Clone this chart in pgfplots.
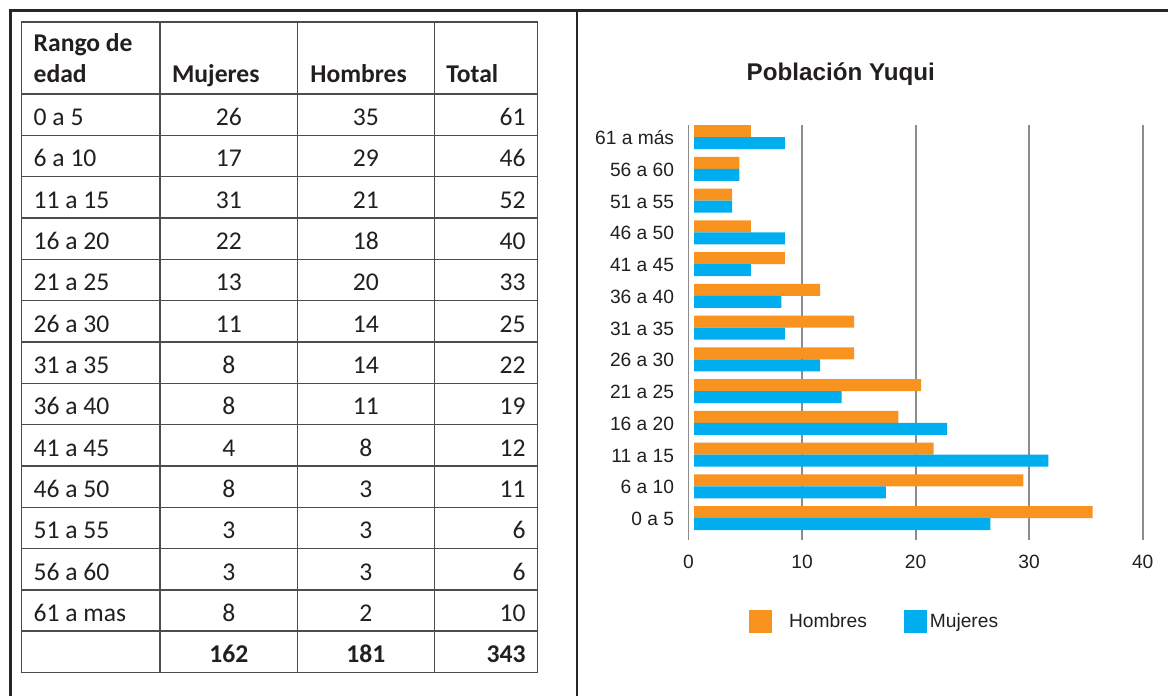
\documentclass[border=0pt]{standalone}
\usepackage{pgfplots}
\pgfplotsset{compat=1.18}
\usepackage{fontspec}
\setmainfont{Liberation Sans}
\newfontfamily\tabfont{Carlito}
\definecolor{hom}{HTML}{F7931E}
\definecolor{muj}{HTML}{00AEEF}
\definecolor{txt}{HTML}{231F20}
\definecolor{gridc}{HTML}{8C8C8C}
\begin{document}
\begin{tikzpicture}
\begin{scope}[x=0.5pt,y=-0.5pt]
\path[use as bounding box] (0,0) rectangle (1168,696);
% outer frame
\draw[line width=1.35pt, color=black!85] (10.7,696) -- (10.7,10.7) -- (1168,10.7);
\draw[line width=1.35pt, color=black!85] (577,10.7) -- (577,696);
% table grid
\draw[line width=0.7pt, color=black!70] (21.7,22) rectangle (537.7,672.5);
\foreach \x in {160,297.5,434.3} \draw[line width=0.7pt, color=black!70] (\x,22) -- (\x,672.5);
\foreach \k in {0,...,13} \draw[line width=0.7pt, color=black!70] (21.7,94+41.32*\k) -- (537.7,94+41.32*\k);
% header
\begin{scope}[every node/.style={inner sep=0pt, text=txt, font=\tabfont\bfseries\fontsize{12.8pt}{14pt}\selectfont}]
\node[anchor=base west] at (33.3,51.7) {Rango de};
\node[anchor=base west] at (33.3,82.7) {edad};
\node[anchor=base west] at (171.7,82.7) {Mujeres};
\node[anchor=base west] at (310,82.7) {Hombres};
\node[anchor=base west] at (446,82.7) {Total};
\end{scope}
% body
\begin{scope}[every node/.style={inner sep=0pt, text=txt, font=\tabfont\fontsize{12.8pt}{14pt}\selectfont}]
\foreach \r/\m/\h/\t [count=\i from 1] in {0 a 5/26/35/61, 6 a 10/17/29/46, 11 a 15/31/21/52, 16 a 20/22/18/40, 21 a 25/13/20/33, 26 a 30/11/14/25, 31 a 35/8/14/22, 36 a 40/8/11/19, 41 a 45/4/8/12, 46 a 50/8/3/11, 51 a 55/3/3/6, 56 a 60/3/3/6, 61 a mas/8/2/10}{
  \pgfmathsetmacro\yb{94+41.32*\i-9.7}
  \node[anchor=base west] at (33.3,\yb) {\r};
  \node[anchor=base] at (228.8,\yb) {\m};
  \node[anchor=base] at (365.9,\yb) {\h};
  \node[anchor=base east] at (526,\yb) {\t};
}
\pgfmathsetmacro\yb{94+41.32*14-9.7}
\node[anchor=base, font=\tabfont\bfseries\fontsize{12.8pt}{14pt}\selectfont] at (228.8,\yb) {162};
\node[anchor=base, font=\tabfont\bfseries\fontsize{12.8pt}{14pt}\selectfont] at (365.9,\yb) {181};
\node[anchor=base east, font=\tabfont\bfseries\fontsize{12.8pt}{14pt}\selectfont] at (526,\yb) {343};
\end{scope}
% chart title
\node[anchor=base, inner sep=0pt, text=txt, font=\bfseries\fontsize{12.1pt}{14pt}\selectfont] at (840.8,80.7) {Población Yuqui};
\end{scope}
\begin{axis}[
  at={(344.25pt,-270pt)}, anchor=south west,
  scale only axis, width=227.1pt, height=207.5pt,
  xmin=0, xmax=40, ymin=-0.693, ymax=12.378,
  xbar, bar width=6pt,
  axis line style={draw=none}, tick style={draw=none},
  xmajorgrids, major grid style={gridc, line width=0.95pt},
  xtick={0,10,20,30,40},
  ytick={0,...,12},
  yticklabels={0 a 5, 6 a 10, 11 a 15, 16 a 20, 21 a 25, 26 a 30, 31 a 35, 36 a 40, 41 a 45, 46 a 50, 51 a 55, 56 a 60, 61 a más},
  ticklabel style={font=\fontsize{9.6pt}{11pt}\selectfont, text=txt, inner sep=0pt},
  xticklabel style={anchor=base, yshift=-14.35pt},
  yticklabel style={anchor=base east, xshift=-2.75pt, yshift=-3.8pt},
  /pgf/number format/assume math mode=true,
  clip=false,
  legend columns=2,
  legend image code/.code={\path[#1, xshift=-2.75pt] (0pt,-5.75pt) rectangle (11.5pt,5.75pt);},
  legend style={at={(0.1332,-0.1969)}, anchor=west, draw=none, fill=none, inner sep=0pt, outer sep=0pt,
    font=\fontsize{9.6pt}{11pt}\selectfont, text=txt, nodes={inner sep=0pt},
    /tikz/column 1/.style={column sep=8.5pt},
    /tikz/column 2/.style={column sep=18.5pt},
    /tikz/column 3/.style={column sep=1.5pt}},
]
\addplot[fill=hom, draw=none, bar shift=3pt, xshift=2.75pt] coordinates {(35.1,0) (29,1) (21.1,2) (18,3) (20,4) (14.1,5) (14.1,6) (11.1,7) (8,8) (5,9) (3.35,10) (4,11) (5,12)};
\addplot[fill=muj, draw=none, bar shift=-3pt, xshift=2.75pt] coordinates {(26.1,0) (16.9,1) (31.2,2) (22.3,3) (13,4) (11.1,5) (8,6) (7.7,7) (5,8) (8,9) (3.35,10) (4,11) (8,12)};
\legend{Hombres, Mujeres}
\end{axis}
\end{tikzpicture}
\end{document}
